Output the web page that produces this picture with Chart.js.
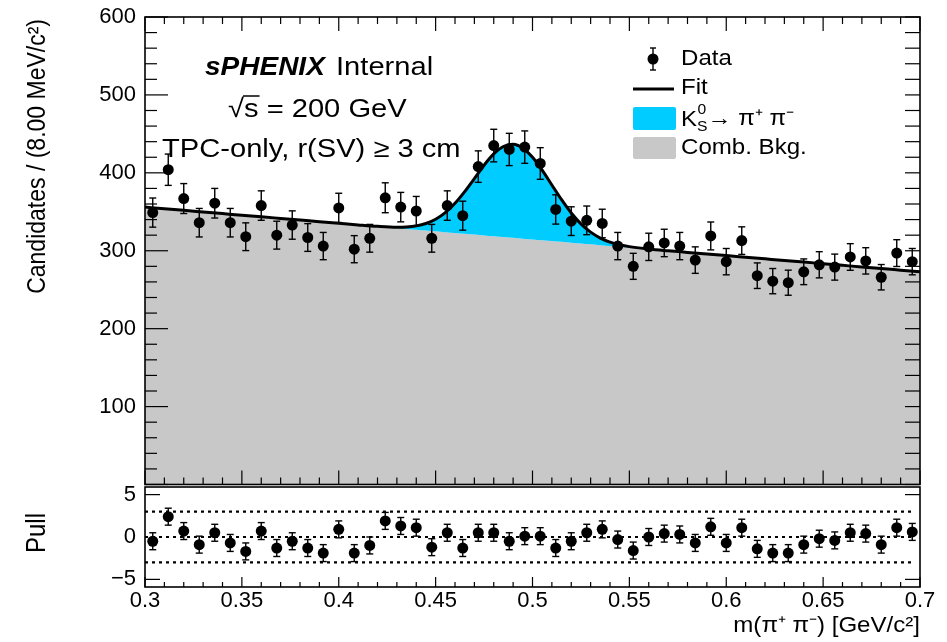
<!DOCTYPE html>
<html><head><meta charset="utf-8">
<script src="https://cdn.jsdelivr.net/npm/chart.js@4/dist/chart.umd.min.js"></script>
<style>
html,body{margin:0;padding:0;background:#fff;width:947px;height:642px;overflow:hidden}
canvas{position:absolute;left:0}
</style></head><body>
<canvas id="main" width="947" height="490" style="top:0"></canvas>
<canvas id="pull" width="947" height="164" style="top:478px"></canvas>
<script>
// ---------------- data ----------------
const massBins = [0.304,0.312,0.320,0.328,0.336,0.344,0.352,0.360,0.368,0.376,0.384,0.392,0.400,0.408,0.416,0.424,0.432,0.440,0.448,0.456,0.464,0.472,0.480,0.488,0.496,0.504,0.512,0.520,0.528,0.536,0.544,0.552,0.560,0.568,0.576,0.584,0.592,0.600,0.608,0.616,0.624,0.632,0.640,0.648,0.656,0.664,0.672,0.680,0.688,0.696];
const counts = [349,404,367,336,361,336,318,358,320,333,317,306,355,302,316,368,356,351,316,358,345,408,435,430,433,412,353,338,339,335,306,280,305,310,306,288,319,286,313,268,261,259,273,282,279,292,287,266,297,286];
const countErr = [18.7,20.1,19.2,18.3,19.0,18.3,17.8,18.9,17.9,18.2,17.8,17.5,18.8,17.4,17.8,19.2,18.9,18.7,17.8,18.9,18.6,20.2,20.9,20.7,20.8,20.3,18.8,18.4,18.4,18.3,17.5,16.7,17.5,17.6,17.5,17.0,17.9,16.9,17.7,16.4,16.2,16.1,16.5,16.8,16.7,17.1,16.9,16.3,17.2,16.9];
const pulls = [-0.5,2.4,0.7,-0.9,0.5,-0.7,-1.7,0.7,-1.3,-0.5,-1.3,-1.9,0.9,-1.9,-1.0,1.9,1.3,1.1,-1.2,0.5,-1.3,0.5,0.5,-0.5,0.1,0.1,-1.3,-0.5,0.5,0.9,-0.3,-1.6,0.0,0.4,0.3,-0.7,1.2,-0.7,1.1,-1.4,-1.9,-1.9,-0.9,-0.2,-0.4,0.5,0.4,-0.9,1.1,0.6];
const pullErr = [1,1,1,1,1,1,1,1,1,1,1,1,1,1,1,1,1,1,1,1,1,1,1,1,1,1,1,1,1,1,1,1,1,1,1,1,1,1,1,1,1,1,1,1,1,1,1,1,1,1];
const fitMass = [0.30,0.31,0.32,0.33,0.34,0.35,0.36,0.37,0.38,0.39,0.40,0.41,0.42,0.43,0.435,0.44,0.445,0.45,0.455,0.46,0.465,0.47,0.475,0.48,0.485,0.49,0.495,0.50,0.505,0.51,0.515,0.52,0.525,0.53,0.535,0.54,0.545,0.55,0.56,0.57,0.58,0.59,0.60,0.61,0.62,0.63,0.64,0.65,0.66,0.67,0.68,0.69,0.70];
const fitTotal = [356.0,353.9,351.9,349.8,347.7,345.6,343.6,341.5,339.4,337.3,335.3,333.2,331.3,330.2,330.5,331.9,335.0,340.5,349.0,360.9,375.9,392.7,409.8,424.3,433.8,436.6,431.7,420.1,403.6,384.4,365.5,348.5,334.5,323.9,316.3,311.1,307.7,305.3,302.3,300.0,297.9,295.8,293.8,291.7,289.6,287.5,285.5,283.4,281.3,279.2,277.2,275.1,273.0];
const fitBkg = [356.0,353.9,351.9,349.8,347.7,345.6,343.6,341.5,339.4,337.3,335.3,333.2,331.1,329.0,328.0,327.0,325.9,324.9,323.8,322.8,321.8,320.7,319.7,318.7,317.6,316.6,315.5,314.5,313.5,312.4,311.4,310.4,309.3,308.3,307.2,306.2,305.2,304.1,302.1,300.0,297.9,295.8,293.8,291.7,289.6,287.5,285.5,283.4,281.3,279.2,277.2,275.1,273.0];
const pullLines = [3, 0, -3];
const pullLineRange = [0.30, 0.696];
const xTickLabels = ['0.3','0.35','0.4','0.45','0.5','0.55','0.6','0.65','0.7'];

// ---------------- style ----------------
const FONT = '"Liberation Sans", Arial, Helvetica, sans-serif';
const SX = 1.12;
const GRAY = '#c8c8c8';
const CYAN = '#00ccff';

function txt(ctx, str, x, y, size, o = {}) {
  ctx.save();
  ctx.font = `${o.style || ''} ${size}px ${FONT}`;
  ctx.fillStyle = '#000';
  ctx.textBaseline = o.baseline || 'middle';
  ctx.textAlign = o.align || 'left';
  ctx.translate(x, y);
  ctx.scale(SX, 1);
  if (o.rot) ctx.rotate(o.rot);
  ctx.fillText(str, 0, 0);
  const w = ctx.measureText(str).width * SX;
  ctx.restore();
  return w;
}
function seg(ctx, x1, y1, x2, y2) { ctx.beginPath(); ctx.moveTo(x1, y1); ctx.lineTo(x2, y2); ctx.stroke(); }

const errorBars = {
  id: 'errorBars',
  afterDatasetsDraw(chart) {
    const ctx = chart.ctx, ys = chart.scales.y;
    chart.data.datasets.forEach((ds, i) => {
      if (!ds.errors) return;
      const meta = chart.getDatasetMeta(i);
      ctx.save();
      ctx.strokeStyle = '#000'; ctx.lineWidth = 1.4;
      meta.data.forEach((pt, j) => {
        const v = ds.data[j].y, e = ds.errors[j];
        const t = ys.getPixelForValue(v + e), b = ys.getPixelForValue(v - e);
        seg(ctx, pt.x, t, pt.x, b);
        seg(ctx, pt.x - 3.5, t, pt.x + 3.5, t);
        seg(ctx, pt.x - 3.5, b, pt.x + 3.5, b);
      });
      ctx.restore();
    });
  }
};

const fmtX = v => { const s = (Math.round(v * 100) / 100).toString(); return xTickLabels.includes(s) ? s : ''; };

// ---------------- main panel ----------------
const mainDeco = {
  id: 'mainDeco',
  afterDraw(chart) {
    const { ctx, chartArea: a, scales: { x, y } } = chart;
    ctx.save();
    ctx.strokeStyle = '#000'; ctx.lineWidth = 1.2;
    for (let v = 0; v <= 600; v += 20) {
      const py = y.getPixelForValue(v);
      const L = v % 100 === 0 ? 23 : 12;
      seg(ctx, a.left, py, a.left + L, py);
      seg(ctx, a.right, py, a.right - 15, py);
    }
    for (let k = 30; k <= 70; k++) {
      const px = x.getPixelForValue(k / 100);
      const L = k % 5 === 0 ? 14 : 7;
      seg(ctx, px, a.bottom, px, a.bottom - L);
      seg(ctx, px, a.top, px, a.top + L);
    }
    ctx.lineWidth = 1.6;
    ctx.strokeRect(a.left, a.top, a.right - a.left, a.bottom - a.top);

    // annotations
    txt(ctx, 'sPHENIX', 205, 68, 25, { style: 'italic bold' });
    txt(ctx, 'Internal', 336, 68, 26);
    // sqrt(s)
    let cx = 228;
    cx += txt(ctx, '\u221A', cx, 110, 26);
    const ws = txt(ctx, 's', cx, 110, 26);
    ctx.lineWidth = 1.5;
    seg(ctx, cx - 1, 96, cx + ws + 1, 96);
    cx += ws;
    txt(ctx, ' = 200 GeV', cx, 110, 26);
    txt(ctx, 'TPC-only, r(SV) \u2265 3 cm', 162, 150, 26);

    // y title
    txt(ctx, 'Candidates / (8.00 MeV/c\u00B2)', 38, 19, 23, { rot: -Math.PI / 2, align: 'right' });

    // legend
    const LF = 21.5;
    ctx.fillStyle = '#000';
    ctx.beginPath(); ctx.arc(653, 59, 5.5, 0, Math.PI * 2); ctx.fill();
    ctx.lineWidth = 1.4;
    seg(ctx, 653, 48, 653, 70); seg(ctx, 650, 48, 656, 48); seg(ctx, 650, 70, 656, 70);
    txt(ctx, 'Data', 681, 59, LF);
    ctx.lineWidth = 3; seg(ctx, 633, 89, 674, 89);
    txt(ctx, 'Fit', 681, 88, LF);
    ctx.fillStyle = CYAN; ctx.beginPath(); ctx.roundRect(633, 107, 43, 23, 2); ctx.fill();
    let lx = 681;
    lx += txt(ctx, 'K', lx, 120, LF);
    txt(ctx, '0', lx + 0.5, 110, 14);
    const wsub = txt(ctx, 'S', lx, 127, 14);
    lx += wsub;
    txt(ctx, '\u2192 \u03C0\u207A \u03C0\u207B', lx, 119, LF);
    ctx.fillStyle = GRAY; ctx.beginPath(); ctx.roundRect(633, 137, 43, 22, 2); ctx.fill();
    txt(ctx, 'Comb. Bkg.', 681, 148, LF);
    ctx.restore();
  }
};

const mainChart = new Chart(document.getElementById('main'), {
  type: 'line',
  data: {
    datasets: [
      { label: 'Data', data: massBins.map((m, i) => ({ x: m, y: counts[i] })), errors: countErr,
        showLine: false, pointRadius: 5.5, pointBackgroundColor: '#000', pointBorderWidth: 0, borderColor: '#000', order: 0 },
      { label: 'Fit', data: fitMass.map((m, i) => ({ x: m, y: fitTotal[i] })), borderColor: '#000', borderWidth: 3,
        pointRadius: 0, fill: { target: 2 }, backgroundColor: CYAN, cubicInterpolationMode: 'monotone', order: 1 },
      { label: 'Comb. Bkg.', data: fitMass.map((m, i) => ({ x: m, y: fitBkg[i] })), borderWidth: 0, borderColor: 'rgba(0,0,0,0)',
        pointRadius: 0, fill: 'origin', backgroundColor: GRAY, cubicInterpolationMode: 'monotone', order: 2 }
    ]
  },
  options: {
    responsive: false, animation: false, events: [],
    layout: { padding: { left: 0, right: 27, top: 17, bottom: 5 } },
    plugins: { legend: { display: false }, tooltip: { enabled: false } },
    scales: {
      x: { type: 'linear', min: 0.3, max: 0.7, display: false },
      y: { min: 0, max: 600,
        grid: { display: false, drawTicks: false }, border: { display: false },
        ticks: { stepSize: 100, padding: 9, color: '#000', font: { family: FONT, size: 22 },
          callback: v => v === 0 ? '' : String(v) },
        afterFit(s) { s.width = 145; s.paddingTop = 0; s.paddingBottom = 0; } }
    }
  },
  plugins: [errorBars, mainDeco]
});

// ---------------- pull panel ----------------
const pullDeco = {
  id: 'pullDeco',
  afterDraw(chart) {
    const { ctx, chartArea: a, scales: { x, y } } = chart;
    ctx.save();
    ctx.strokeStyle = '#000'; ctx.lineWidth = 1.2;
    [5, -5].forEach(v => {
      const py = y.getPixelForValue(v);
      seg(ctx, a.left, py, a.left + 15, py);
      seg(ctx, a.right, py, a.right - 15, py);
    });
    for (let k = 30; k <= 70; k++) {
      const px = x.getPixelForValue(k / 100);
      const L = k % 5 === 0 ? 10 : 5;
      seg(ctx, px, a.bottom, px, a.bottom - L);
    }
    ctx.lineWidth = 1.6;
    ctx.strokeRect(a.left, a.top, a.right - a.left, a.bottom - a.top);
    txt(ctx, 'Pull', 38, 55, 24, { rot: -Math.PI / 2, align: 'center' });
    txt(ctx, 'm(\u03C0\u207A \u03C0\u207B) [GeV/c\u00B2]', 920, 148, 21.5, { align: 'right' });
    ctx.restore();
  }
};

const pullDatasets = [
  { label: 'Pull', data: massBins.map((m, i) => ({ x: m, y: pulls[i] })), errors: pullErr,
    showLine: false, pointRadius: 5.5, pointBackgroundColor: '#000', pointBorderWidth: 0, borderColor: '#000', order: 0 }
];
pullLines.forEach(v => pullDatasets.push({
  data: pullLineRange.map(m => ({ x: m, y: v })), borderColor: '#000', borderWidth: 2.2, borderDash: [3, 4],
  pointRadius: 0, fill: false, order: 1
}));

const pullChart = new Chart(document.getElementById('pull'), {
  type: 'line',
  data: { datasets: pullDatasets },
  options: {
    responsive: false, animation: false, events: [],
    layout: { padding: { left: 0, right: 27, top: 9, bottom: 0 } },
    plugins: { legend: { display: false }, tooltip: { enabled: false } },
    scales: {
      x: { type: 'linear', min: 0.3, max: 0.7,
        grid: { display: false, drawTicks: false }, border: { display: false },
        ticks: { stepSize: 0.05, autoSkip: false, maxRotation: 0, padding: 1, color: '#000',
          font: { family: FONT, size: 22 }, callback: fmtX },
        afterFit(s) { s.height = 55; s.paddingLeft = 0; s.paddingRight = 0; } },
      y: { min: -5.9, max: 5.9,
        grid: { display: false, drawTicks: false }, border: { display: false },
        ticks: { stepSize: 5, includeBounds: false, padding: 9, color: '#000', font: { family: FONT, size: 22 },
          callback: v => v < 0 ? '\u2212' + Math.abs(v) : String(v) },
        afterFit(s) { s.width = 145; s.paddingTop = 0; s.paddingBottom = 0; } }
    }
  },
  plugins: [errorBars, pullDeco]
});
</script>
</body></html>
